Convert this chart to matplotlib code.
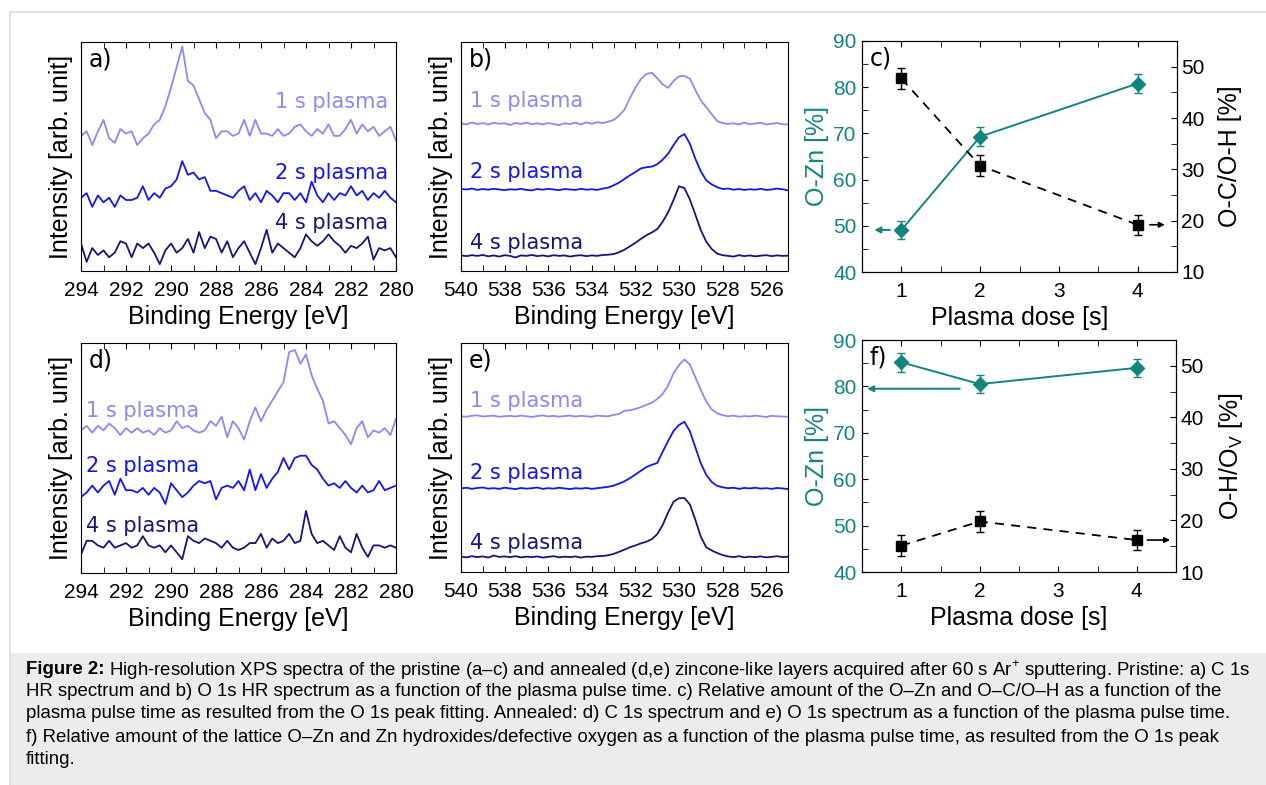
import matplotlib.pyplot as plt
import numpy as np
from matplotlib.patches import Rectangle
from matplotlib.ticker import MultipleLocator

plt.rcParams['font.family'] = ['Liberation Sans', 'DejaVu Sans']
plt.rcParams['mathtext.fontset'] = 'custom'
plt.rcParams['mathtext.rm'] = 'Liberation Sans'

# binding energy grids (0.25 eV steps)
e_c1s = np.linspace(294, 280, 57)
e_o1s = np.linspace(540, 525, 61)

# C 1s, pristine (a)
c1s_pristine_1s = [59, 61, 55, 61, 66, 58, 56, 62, 60, 61, 55, 58, 60, 64, 66, 72, 80, 89, 98, 83,
                   81, 75, 69, 66, 58, 61, 61, 59, 60, 66, 59, 66, 60, 60, 59, 62, 59, 60, 63, 64,
                   61, 59, 62, 60, 64, 59, 59, 62, 66, 60, 64, 61, 63, 59, 61, 63, 57]
c1s_pristine_2s = [32, 34, 28, 33, 30, 32, 28, 33, 31, 31, 32, 37, 31, 34, 32, 36, 37, 40, 48, 42,
                   43, 40, 41, 35, 35, 34, 33, 32, 35, 37, 31, 34, 30, 35, 33, 30, 34, 34, 31, 34,
                   30, 39, 33, 30, 34, 31, 34, 33, 37, 33, 35, 31, 34, 32, 35, 32, 30]
c1s_pristine_4s = [12, 4, 10, 7, 9, 6, 8, 13, 12, 6, 12, 10, 12, 8, 3, 9, 12, 8, 10, 14,
                   8, 17, 10, 15, 14, 8, 13, 6, 10, 13, 8, 3, 10, 18, 8, 12, 10, 8, 6, 10,
                   16, 13, 11, 13, 16, 13, 11, 8, 11, 10, 12, 15, 5, 10, 9, 10, 6]

# C 1s, annealed (d)
c1s_annealed_1s = [62, 64, 61, 64, 62, 65, 63, 60, 63, 61, 63, 61, 62, 60, 63, 61, 62, 66, 63, 64,
                   62, 61, 62, 66, 64, 68, 59, 66, 63, 58, 66, 72, 66, 71, 75, 79, 83, 96, 97, 91,
                   95, 86, 80, 75, 65, 66, 63, 60, 56, 63, 66, 59, 62, 61, 63, 60, 67]
c1s_annealed_2s = [33, 35, 38, 35, 38, 40, 34, 41, 36, 36, 35, 37, 34, 37, 35, 30, 39, 36, 33, 35,
                   38, 40, 39, 40, 32, 37, 38, 37, 40, 36, 45, 36, 43, 37, 41, 44, 50, 45, 50, 51,
                   51, 47, 45, 41, 38, 39, 37, 40, 37, 35, 38, 35, 36, 40, 36, 37, 38]
c1s_annealed_4s = [8, 14, 14, 12, 11, 14, 11, 12, 13, 11, 12, 16, 12, 11, 12, 9, 12, 9, 6, 16,
                   14, 13, 15, 14, 13, 11, 14, 11, 10, 11, 13, 13, 17, 11, 15, 13, 14, 17, 13, 14,
                   27, 17, 13, 14, 12, 10, 16, 11, 9, 17, 11, 7, 12, 12, 11, 12, 11]

# O 1s, pristine (b)
o1s_pristine_1s = [64.5, 64.0, 64.8, 64.2, 64.6, 64.0, 64.7, 64.3, 64.5, 63.8, 64.6, 64.2, 64.8, 64.1,
                   64.5, 64.0, 64.6, 64.2, 63.7, 64.5, 64.2, 64.8, 64.0, 64.9, 64.3, 65.0, 64.6, 65.2,
                   66.0, 67.8, 70.5, 75.5, 80.0, 83.8, 86.0, 86.6, 84.2, 81.5, 80.0, 83.0, 85.0, 85.2,
                   84.0, 79.0, 74.5, 71.5, 68.5, 65.5, 64.6, 64.2, 64.5, 64.0, 64.8, 64.1, 64.4, 64.7,
                   64.0, 64.3, 64.6, 64.1, 64.0]
o1s_pristine_2s = [35.8, 35.6, 36.0, 35.4, 35.8, 35.5, 35.9, 35.6, 35.3, 35.7, 35.5, 35.9, 35.4, 35.2,
                   35.8, 35.5, 35.9, 35.6, 35.3, 35.8, 35.6, 35.4, 35.9, 35.5, 35.7, 35.4, 36.0, 36.4,
                   37.4, 38.6, 40.2, 41.8, 43.2, 44.8, 45.3, 45.6, 46.6, 48.6, 51.2, 55.0, 58.4, 59.8,
                   55.5, 49.0, 43.5, 39.6, 37.8, 36.6, 35.8, 36.0, 35.5, 35.8, 35.4, 35.7, 35.5, 35.9,
                   35.4, 35.6, 36.0, 35.7, 35.2]
o1s_pristine_4s = [6.8, 6.5, 6.9, 6.6, 7.0, 6.4, 6.8, 6.3, 6.9, 6.6, 5.9, 6.8, 6.6, 7.0,
                   6.5, 6.8, 6.4, 6.9, 6.6, 6.8, 6.3, 6.7, 6.9, 6.5, 6.8, 6.6, 7.0, 7.1,
                   7.4, 8.2, 9.3, 10.8, 12.3, 14.0, 15.6, 16.8, 18.3, 21.5, 25.6, 31.0, 37.0, 36.2,
                   31.2, 24.6, 17.9, 12.8, 9.6, 7.6, 6.9, 6.6, 6.3, 6.9, 6.5, 6.8, 6.4, 6.7,
                   6.9, 6.5, 6.8, 6.6, 6.7]

# O 1s, annealed (e)
o1s_annealed_1s = [68.0, 67.8, 68.2, 68.4, 67.9, 68.1, 68.3, 67.8, 68.0, 68.2, 67.9, 68.3, 68.0, 67.7,
                   68.1, 68.4, 67.9, 68.2, 67.8, 68.1, 68.3, 67.9, 68.2, 68.0, 67.8, 68.3, 68.1, 68.0,
                   68.6, 69.0, 70.4, 70.6, 71.2, 72.0, 73.0, 73.9, 75.5, 77.8, 81.4, 86.8, 90.4, 92.8,
                   90.6, 85.0, 79.5, 74.5, 71.0, 69.3, 68.5, 68.0, 68.3, 67.8, 68.1, 67.9, 68.3, 68.0,
                   67.7, 68.2, 68.0, 67.9, 67.8]
o1s_annealed_2s = [36.5, 36.8, 36.3, 36.7, 36.9, 36.4, 36.6, 36.3, 36.8, 36.5, 36.2, 36.7, 36.4, 36.6,
                   36.9, 36.3, 36.6, 36.4, 36.8, 36.5, 36.2, 36.6, 36.4, 36.7, 36.3, 36.6, 36.9, 37.2,
                   37.7, 38.6, 39.6, 41.0, 42.6, 44.2, 45.8, 46.8, 47.6, 52.5, 57.2, 61.6, 64.2, 65.6,
                   61.4, 54.4, 47.5, 42.4, 39.3, 37.6, 37.0, 36.6, 36.8, 36.3, 36.7, 36.5, 36.8, 36.4,
                   36.6, 36.3, 36.7, 36.5, 36.2]
o1s_annealed_4s = [6.7, 6.4, 6.9, 6.5, 6.8, 6.3, 7.2, 6.6, 6.8, 6.5, 6.9, 6.4, 6.7, 6.5,
                   6.8, 6.3, 6.6, 6.9, 6.4, 6.7, 6.5, 6.8, 6.3, 6.7, 6.6, 6.9, 7.0, 7.3,
                   7.9, 8.8, 9.8, 10.8, 11.6, 12.5, 13.2, 14.3, 16.5, 20.5, 26.0, 30.7, 32.2, 32.3,
                   29.5, 22.8, 15.4, 10.8, 9.4, 8.3, 7.4, 6.8, 6.5, 6.9, 6.4, 6.7, 6.5, 6.8,
                   6.4, 6.6, 6.9, 6.5, 6.7]

trace_names = ['1 s plasma', '2 s plasma', '4 s plasma']

# peak fitting results vs plasma dose
dose = [1, 2, 4]
ozn_pristine = [49.1, 69.3, 80.8]
ozn_pristine_err = [2.0, 2.0, 2.0]
ocoh_pristine = [47.7, 30.7, 19.2]
ocoh_pristine_err = [2.0, 2.0, 2.0]
ozn_annealed = [85.2, 80.5, 84.0]
ozn_annealed_err = [2.0, 2.0, 2.0]
ohov_annealed = [15.1, 19.8, 16.2]
ohov_annealed_err = [2.0, 2.0, 2.0]

W, H = 1266, 785
colors = ['#8a8af2', '#1515ee', '#15157a']
teal = '#13857f'


def rect(x0, y0, x1, y1):
    return [x0 / W, 1 - y1 / H, (x1 - x0) / W, (y1 - y0) / H]


fig = plt.figure(figsize=(W / 100, H / 100), dpi=100)

# frame and caption background
fig.patches.append(Rectangle((10 / W, 0), 1, 1 - 12 / H, transform=fig.transFigure,
                             facecolor='white', edgecolor='#dddddd', lw=1.2, zorder=-2))
fig.patches.append(Rectangle((11 / W, 0), 1, 1 - 653 / H, transform=fig.transFigure,
                             facecolor='#ececec', edgecolor='none', zorder=-1))


def spectra_panel(box, energies, traces, xlim, letter, text_x, text_ys, ha):
    ax = fig.add_axes(rect(*box))
    for tr, col, name, ty in zip(traces, colors, trace_names, text_ys):
        ax.plot(energies, tr, color=col, lw=1.3)
        ax.text(text_x, ty, name, color=col, fontsize=15, ha=ha, va='center',
                family=['DejaVu Sans'])
    ax.set_xlim(*xlim)
    ax.set_ylim(0, 100)
    ax.set_yticks([])
    ax.xaxis.set_major_locator(MultipleLocator(2))
    ax.xaxis.set_minor_locator(MultipleLocator(1))
    ax.tick_params(which='both', direction='in', top=True, length=4, labelsize=15, pad=7)
    ax.set_xlabel('Binding Energy [eV]', fontsize=18, labelpad=4)
    ax.set_ylabel('Intensity [arb. unit]', fontsize=18, labelpad=6)
    ax.text(0.025, 0.975, letter, transform=ax.transAxes, fontsize=17, va='top', ha='left',
            family=['DejaVu Sans'])
    return ax


spectra_panel((81, 42, 396, 271), e_c1s, [c1s_pristine_1s, c1s_pristine_2s, c1s_pristine_4s],
              (294, 280), 'a)', 280.35, [74, 43, 21], 'right')
spectra_panel((461, 42, 788, 271), e_o1s, [o1s_pristine_1s, o1s_pristine_2s, o1s_pristine_4s],
              (540, 525), 'b)', 539.6, [74.3, 43.3, 12.4], 'left')
spectra_panel((81, 343, 396, 573), e_c1s, [c1s_annealed_1s, c1s_annealed_2s, c1s_annealed_4s],
              (294, 280), 'd)', 293.78, [70.6, 46.5, 20.4], 'left')
spectra_panel((461, 343, 788, 572), e_o1s, [o1s_annealed_1s, o1s_annealed_2s, o1s_annealed_4s],
              (540, 525), 'e)', 539.6, [74.8, 43.4, 12.5], 'left')


def dose_panel(box, ozn, ozn_err, other, other_err, other_label, letter,
               left_arrow, right_arrow):
    ax = fig.add_axes(rect(*box))
    ax.errorbar(dose, ozn, yerr=ozn_err, color=teal, marker='D', ms=7, lw=1.4,
                capsize=3, elinewidth=1, capthick=1)
    ax.set_xlim(0.5, 4.5)
    ax.set_ylim(40, 90)
    ax.set_xticks([1, 2, 3, 4])
    ax.xaxis.set_minor_locator(MultipleLocator(0.5))
    ax.yaxis.set_major_locator(MultipleLocator(10))
    ax.yaxis.set_minor_locator(MultipleLocator(5))
    ax.tick_params(which='both', direction='in', top=True, length=4, labelsize=15, pad=4)
    ax.tick_params(axis='x', pad=7)
    ax.tick_params(axis='y', labelcolor=teal)
    ax.set_xlabel('Plasma dose [s]', fontsize=18, labelpad=4)
    ax.set_ylabel('O-Zn [%]', fontsize=18, color=teal, labelpad=3)
    ax.text(0.025, 0.975, letter, transform=ax.transAxes, fontsize=17, va='top', ha='left',
            family=['DejaVu Sans'])
    ay, ax0, ax1 = left_arrow
    ax.annotate('', xy=(ax1, ay), xytext=(ax0, ay),
                arrowprops=dict(arrowstyle='-|>', color=teal, lw=1.4, mutation_scale=9))

    ax2 = ax.twinx()
    ax2.errorbar(dose, other, yerr=other_err, color='black', marker='s', ms=6.5, lw=1.3,
                 ls=(0, (5, 4)), capsize=3, elinewidth=1, capthick=1)
    ax2.set_ylim(10, 55)
    ax2.yaxis.set_major_locator(MultipleLocator(10))
    ax2.yaxis.set_minor_locator(MultipleLocator(5))
    ax2.tick_params(which='both', direction='in', length=4, labelsize=15, pad=3)
    ax2.set_ylabel(other_label, fontsize=18, labelpad=10)
    by, bx0, bx1 = right_arrow
    ax2.annotate('', xy=(bx1, by), xytext=(bx0, by),
                 arrowprops=dict(arrowstyle='-|>', color='black', lw=1.2, mutation_scale=8))


dose_panel((862, 41, 1177, 272), ozn_pristine, ozn_pristine_err, ocoh_pristine,
           ocoh_pristine_err, 'O-C/O-H [%]', 'c)', (49.1, 0.89, 0.62), (19.2, 4.12, 4.38))
dose_panel((862, 340, 1176, 572), ozn_annealed, ozn_annealed_err, ohov_annealed,
           ohov_annealed_err, r'O-H/O$_\mathrm{V}$ [%]', 'f)', (79.5, 1.78, 0.53),
           (16.2, 4.10, 4.46))

# caption
cap_lines = [
    ' High-resolution XPS spectra of the pristine (a\u2013c) and annealed (d,e) zincone-like layers '
    'acquired after 60 s Ar$^{+}$ sputtering. Pristine: a) C 1s',
    'HR spectrum and b) O 1s HR spectrum as a function of the plasma pulse time. c) Relative amount '
    'of the O\u2013Zn and O\u2013C/O\u2013H as a function of the',
    'plasma pulse time as resulted from the O 1s peak fitting. Annealed: d) C 1s spectrum and e) '
    'O 1s spectrum as a function of the plasma pulse time.',
    'f) Relative amount of the lattice O\u2013Zn and Zn hydroxides/defective oxygen as a function '
    'of the plasma pulse time, as resulted from the O 1s peak',
    'fitting.',
]
cap_y = [670, 692, 714, 737, 759]
cap_fs = 13.4
renderer = fig.canvas.get_renderer()
head = fig.text(26 / W, 1 - cap_y[0] / H, 'Figure 2:', fontsize=cap_fs, fontweight='bold',
                va='center')
bb = head.get_window_extent(renderer)
fig.text(bb.x1 / W, 1 - cap_y[0] / H, cap_lines[0], fontsize=cap_fs, va='center')
for line, y in zip(cap_lines[1:], cap_y[1:]):
    fig.text(26 / W, 1 - y / H, line, fontsize=cap_fs, va='center')

fig.savefig('out.png', dpi=100)
